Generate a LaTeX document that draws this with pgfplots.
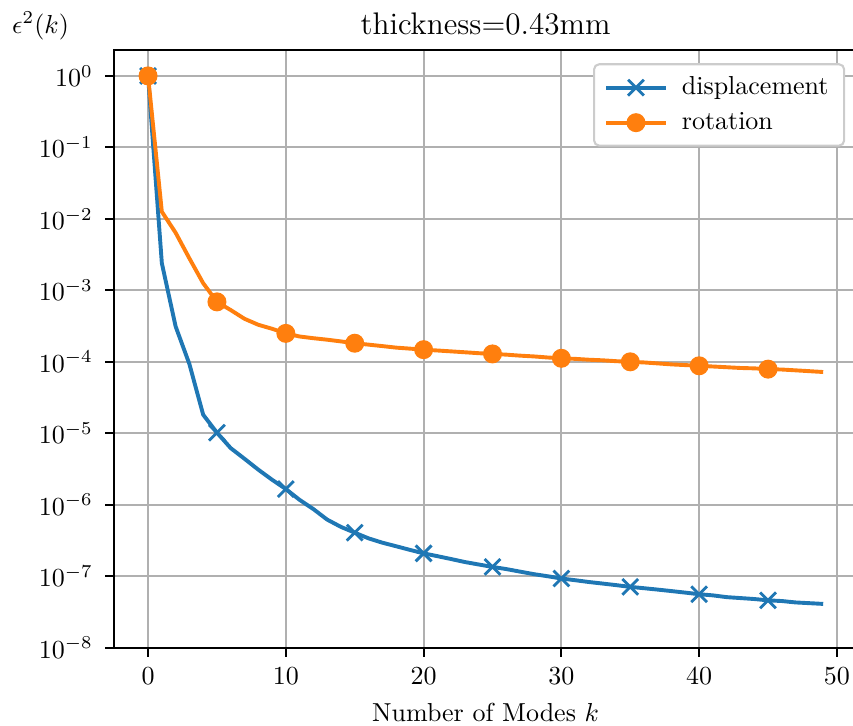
\documentclass[border=0pt]{standalone}
\usepackage{pgfplots}
\usepackage{pgfplotstable}
\pgfplotsset{compat=1.18}
\definecolor{mblue}{HTML}{1F77B4}
\definecolor{morange}{HTML}{FF7F0E}
\definecolor{mgrid}{HTML}{B0B0B0}

\pgfplotstableread{
k disp
0 1
1 2.4e-3
2 3.13e-4
3 9.3e-5
4 1.82e-5
5 1.02e-5
6 6.2e-6
7 4.4e-6
8 3.1e-6
9 2.24e-6
10 1.66e-6
11 1.17e-6
12 8.7e-7
13 6.2e-7
14 4.9e-7
15 4.07e-7
16 3.39e-7
17 2.95e-7
18 2.63e-7
19 2.34e-7
20 2.09e-7
21 1.91e-7
22 1.74e-7
23 1.58e-7
24 1.46e-7
25 1.35e-7
26 1.26e-7
27 1.16e-7
28 1.07e-7
29 1.0e-7
30 9.3e-8
31 8.8e-8
32 8.3e-8
33 7.9e-8
34 7.5e-8
35 7.1e-8
36 6.8e-8
37 6.5e-8
38 6.2e-8
39 5.9e-8
40 5.6e-8
41 5.4e-8
42 5.1e-8
43 4.95e-8
44 4.8e-8
45 4.6e-8
46 4.5e-8
47 4.3e-8
48 4.2e-8
49 4.1e-8
}\disptable

\pgfplotstableread{
k rot
0 1
1 1.26e-2
2 6.4e-3
3 2.8e-3
4 1.26e-3
5 6.9e-4
6 5.3e-4
7 4.0e-4
8 3.3e-4
9 2.9e-4
10 2.5e-4
11 2.26e-4
12 2.14e-4
13 2.04e-4
14 1.93e-4
15 1.82e-4
16 1.74e-4
17 1.66e-4
18 1.58e-4
19 1.53e-4
20 1.48e-4
21 1.44e-4
22 1.40e-4
23 1.36e-4
24 1.32e-4
25 1.29e-4
26 1.26e-4
27 1.22e-4
28 1.19e-4
29 1.15e-4
30 1.12e-4
31 1.10e-4
32 1.07e-4
33 1.05e-4
34 1.02e-4
35 1.0e-4
36 9.8e-5
37 9.5e-5
38 9.2e-5
39 9.0e-5
40 8.8e-5
41 8.6e-5
42 8.4e-5
43 8.2e-5
44 8.1e-5
45 7.9e-5
46 7.8e-5
47 7.6e-5
48 7.4e-5
49 7.2e-5
}\rottable

\begin{document}
\begin{tikzpicture}
\begin{semilogyaxis}[
  scale only axis,
  width=285.6pt, height=229.9pt,
  xmin=-2.45, xmax=51.45,
  ymin=1e-8, ymax=2.31,
  xtick={0,10,20,30,40,50},
  ytick={1e-8,1e-7,1e-6,1e-5,1e-4,1e-3,1e-2,1e-1,1},
  yminorticks=false, xminorticks=false,
  xtick pos=bottom, ytick pos=left,
  tick align=outside,
  major tick length=3.5pt,
  tick style={black, line width=0.8pt},
  axis line style={line width=0.8pt},
  grid=major,
  major grid style={mgrid, line width=0.8pt},
  xticklabel style={anchor=base, yshift=-10.6pt, inner sep=0pt},
  yticklabel style={anchor=east, xshift=-4.6pt, inner sep=0pt},
  xlabel={Number of Modes $k$},
  xlabel style={at={(axis description cs:0.5,0)}, anchor=base, yshift=-28.3pt, inner sep=0pt},
  title={thickness=0.43mm},
  title style={at={(axis description cs:0.5,1)}, anchor=base, yshift=-0.2pt, inner sep=0pt, font=\large},
  legend cell align=left,
  legend style={at={(axis description cs:1,1)}, anchor=north east, xshift=-4.5pt, yshift=-5.1pt,
    draw=black!20, rounded corners=2pt, fill=white,
    line width=0.8pt, row sep=1.2pt, column sep=3.5pt, inner xsep=4pt, inner ysep=2.8pt},
  legend image code/.code={\draw[mark repeat=2,mark phase=2] plot coordinates {(0cm,0cm) (0.4cm,0cm) (0.8cm,0cm)};},
]
\addplot[mblue, line width=1.5pt, mark=x, mark size=4.3pt, mark repeat=5, mark phase=1,
  mark options={line width=1.1pt}] table[x=k,y=disp] {\disptable};
\addlegendentry{displacement}
\addplot[morange, line width=1.5pt, mark=*, mark size=3.4pt, mark repeat=5, mark phase=1,
  mark options={draw=morange, fill=morange, line width=0.5pt}] table[x=k,y=rot] {\rottable};
\addlegendentry{rotation}
\end{semilogyaxis}
\node[anchor=base west, inner sep=0pt] at ([xshift=-39.5pt, yshift=6.5pt]current axis.north west) {$\epsilon^2(k)$};
\pgfresetboundingbox
\useasboundingbox ([xshift=-43.96pt,yshift=-30.1pt]current axis.south west) rectangle ([xshift=284.1pt,yshift=19.2pt]current axis.north west);
\end{tikzpicture}
\end{document}
